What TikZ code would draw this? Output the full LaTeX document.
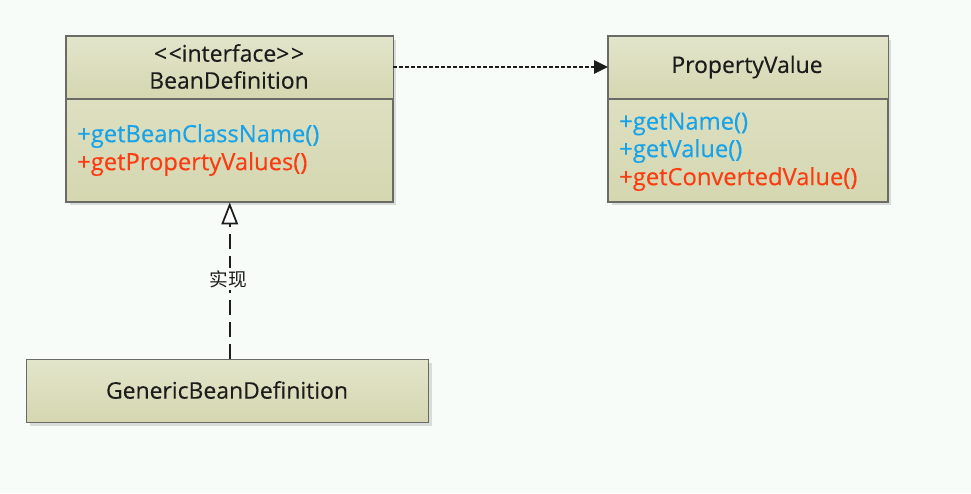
\documentclass[tikz,border=0pt]{standalone}
\usepackage{fontspec}
\setmainfont{Open Sans}
\newfontfamily\umlfont{Open Sans}[FakeBold=0.3]
\newfontfamily\cjk{Noto Sans CJK SC}
\usetikzlibrary{arrows.meta,shadows,calc}
\definecolor{bgc}{HTML}{F8FCF8}
\definecolor{boxtop}{HTML}{E3E5CB}
\definecolor{boxbot}{HTML}{D4D7B0}
\definecolor{boxline}{HTML}{6A6A66}
\definecolor{mblue}{HTML}{18A2E8}
\definecolor{mred}{HTML}{FA3C12}
\definecolor{ink}{HTML}{1C1C1C}
\tikzset{
  umlbox/.style={draw=boxline, line width=1.1pt, top color=boxtop, bottom color=boxbot,
    drop shadow={shadow xshift=2.2pt, shadow yshift=-2.2pt, fill=black, opacity=0.12},
    inner sep=0pt, anchor=north west},
  header/.style={top color=boxtop, bottom color=boxbot},
  divider/.style={draw=boxline, line width=0.9pt},
  outline/.style={draw=boxline, line width=1.1pt},
  title/.style={font=\umlfont\fontsize{17.2}{20}\selectfont, text=ink, inner sep=0pt},
  meth/.style={font=\umlfont\fontsize{17.8}{20}\selectfont, inner sep=0pt, anchor=west},
  bluem/.style={meth, text=mblue},
  redm/.style={meth, text=mred},
  depend/.style={draw=ink, line width=1.5pt, dash pattern=on 2.4pt off 2.1pt,
    -{Triangle[length=10.5pt, width=10pt]}},
  realize/.style={draw=ink, line width=1.5pt, dash pattern=on 11pt off 5.5pt,
    -{Triangle[length=16.5pt, width=12.5pt, fill=white, line width=1.3pt]}},
  lbl/.style={font=\cjk\fontsize{14}{16}\selectfont, text=ink, fill=bgc, inner sep=2pt}
}
\begin{document}
\begin{tikzpicture}[x=0.75pt, y=-0.75pt]
  \fill[bgc] (0,0) rectangle (971,493);
  \useasboundingbox (0,0) rectangle (971,493);

  % BeanDefinition
  \node[umlbox, minimum width=326*0.75pt, minimum height=165*0.75pt] (bd) at (66,36) {};
  \coordinate (bdl) at ($(bd.north west)+(0,63)$);
  \coordinate (bdr) at ($(bd.north east)+(0,63)$);
  \shade[header] (bd.north west) rectangle (bdr);
  \draw[divider] (bdl) -- (bdr);
  \draw[outline] (bd.north west) rectangle (bd.south east);
  \node[title] (bdst) at (229,53) {<\kern1.2pt<interface>\kern1.2pt>};
  \node[title] (bdname) at (229,80) {BeanDefinition};
  \node[bluem] (m1) at (77,136) {+getBeanClassName()};
  \node[redm] (m2) at (77,164) {+getPropertyValues()};

  % PropertyValue
  \node[umlbox, minimum width=279*0.75pt, minimum height=165*0.75pt] (pv) at (608,36) {};
  \coordinate (pvl) at ($(pv.north west)+(0,63)$);
  \coordinate (pvr) at ($(pv.north east)+(0,63)$);
  \shade[header] (pv.north west) rectangle (pvr);
  \draw[divider] (pvl) -- (pvr);
  \draw[outline] (pv.north west) rectangle (pv.south east);
  \node[title] (pvname) at (747,67) {PropertyValue};
  \node[bluem] (p1) at (619,124) {+getName()};
  \node[bluem] (p2) at (619,151) {+getValue()};
  \node[redm] (p3) at (619,179) {+getConvertedValue()};

  % GenericBeanDefinition
  \node[umlbox, minimum width=402*0.75pt, minimum height=63*0.75pt] (gbd) at (26,359) {};
  \node[title] (gbdname) at (227,390) {GenericBeanDefinition};

  % connectors
  \draw[depend] (bd.east |- pvname) -- (pv.west |- pvname);
  \draw[realize] (bd.south |- gbd.north) -- (bd.south);
  \node[lbl] (impl) at (228,279) {实现};
\end{tikzpicture}
\end{document}
